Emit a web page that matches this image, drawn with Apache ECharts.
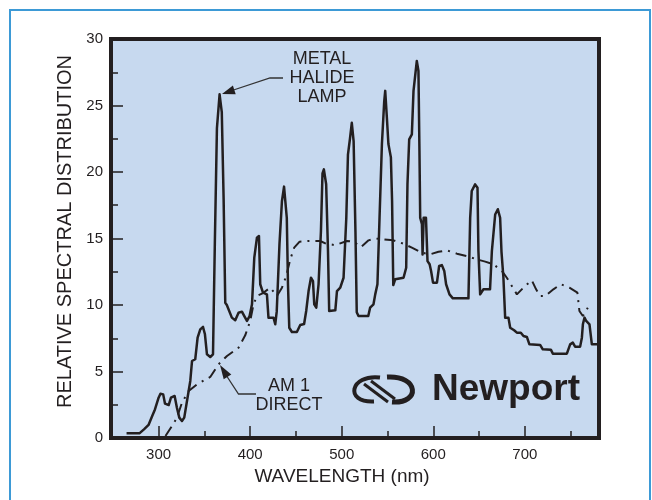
<!DOCTYPE html>
<html>
<head>
<meta charset="utf-8">
<script src="https://cdn.jsdelivr.net/npm/echarts@6/dist/echarts.min.js"></script>
<style>
html,body{margin:0;padding:0;background:#fff;}
#c{width:652px;height:500px;}
</style>
</head>
<body>
<div id="c"></div>
<script>
// Metal halide lamp (solid)
var halideWl = [265,279,284,289,293,296,300,302,305,307,311,313.5,317.5,320,322.6,325.5,328,331,334.6,336.5,340,342.6,345.5,348.5,350.6,352.8,356.4,359.4,361.5,363.7,366.6,369,371,372.8,374.5,380,383.7,387.3,391,393.6,396.5,399.4,402,404.5,407.4,409.6,411,414,418.3,420,425.5,427.4,429,432,434.7,437,440,441.3,442.7,445.6,451,454.7,458.9,461.2,463.8,466.4,468.6,470,472.2,474.7,477.3,479,480.5,483,485,486.3,493,494.8,498.4,502,505,506.8,509,511,513,515,516.4,518.3,529,531,534.7,536.6,539,541.3,543.9,546.4,547.5,549.3,551,553.7,555,556.3,556.8,558.4,567.5,570.4,571.8,573.7,576.6,578.4,582,583.8,584.9,585.7,587.6,588.3,589.5,592,593.7,596,597.6,599.7,604,606.4,609.4,612,614,617.7,621.4,638.4,640.3,642,645.7,648.3,649.3,651.2,654.8,662,664,667.6,670.5,673,674.5,676.6,678.5,682.1,684,688.3,691.3,695.6,698.5,702.2,705,716.7,719.6,728.4,730.6,745.9,749.5,752.4,754.9,760.4,762.3,763.4,765.2,767,770.6,773.2,778,781];
var halideVal = [0.35,0.35,0.65,0.98,1.65,2.15,3.03,3.33,3.28,2.58,2.48,3.03,3.16,2.28,1.53,1.28,1.53,2.78,4.29,5.79,5.92,7.54,8.17,8.35,7.8,6.29,6.09,6.29,15,23.3,25.84,24.5,18,10.17,10.0,9.05,8.85,9.42,9.5,9.17,8.8,9.17,10.05,13.56,15.06,15.19,11.56,10.93,10.8,9.05,9.05,8.55,9.5,14.56,17.8,18.9,16.56,11.56,8.29,7.97,7.97,8.5,8.57,9.55,11.05,12.05,11.8,10.05,9.8,11.56,15.56,19.9,20.2,19.08,14.06,9.55,9.6,11.05,11.3,12.05,16.56,21.3,22.5,23.7,22.3,15.5,9.45,9.17,9.17,9.8,10.05,10.8,11.56,16.56,22.1,25.3,26.1,24.1,22.1,21.1,17.8,11.5,11.5,11.93,12.05,12.8,19.07,22.46,22.83,26.1,28.35,27.6,21.6,16.56,16.07,13.8,16.56,16.56,13.3,13.06,12.56,11.68,11.68,12.93,13.0,12.56,11.56,10.8,10.5,10.5,16.56,18.57,19.07,18.82,14.06,10.8,11.18,11.18,14.06,16.8,17.2,16.56,14,12.05,9.05,9.05,8.29,8.1,7.92,7.92,7.67,7.6,7.04,7.0,6.67,6.64,6.34,6.34,7.04,7.17,6.87,6.87,7.54,8.55,9.05,8.8,8.55,7.04,7.04,7.04];

// AM 1 direct (dash-dot)
var am1Wl = [307.5,314.6,320,325.5,332.8,342,356.4,365.5,374.7,387.3,394.6,400,403.7,407.4,412.9,422,429.3,434.7,439.4,443.8,448.1,454,463.8,476.5,483,493,505.7,513,521,529.3,536.6,545.6,556.6,567.5,576.6,587.6,596.6,605.7,614.9,625.8,636.7,647.6,656.7,665.7,674.9,680.3,685.8,691.3,700.3,707.6,712.3,716.7,722.2,731.2,739.3,748.7,757.4,759.6,763.4,768.8];
var am1Val = [0.15,0.9,1.53,2.65,3.53,4.04,4.59,5.54,6.17,6.79,7.72,8.8,10.05,10.68,10.85,11.3,10.68,11.3,12.18,13.43,14.31,14.76,14.81,14.81,14.61,14.5,14.81,14.76,14.36,14.86,15.0,14.94,14.86,14.61,14.31,13.93,13.81,14.0,14.11,13.86,13.68,13.43,13.26,13.06,12.56,12.05,11.43,10.8,11.43,11.86,11.18,10.68,10.68,11.18,11.56,11.3,10.93,9.55,9.17,9.8];

var xMajorTicks = [300,400,500,600,700];
var xMinorTicks = [350,450,550,650,750];

function pairs(a,b){ return a.map(function(v,i){ return [v,b[i]]; }); }

var ink = '#231f20';
var FF = '"Liberation Sans", Arial, Helvetica, sans-serif';

var chart = echarts.init(document.getElementById('c'), null, {renderer:'canvas'});
chart.setOption({
  animation:false,
  backgroundColor:'#ffffff',
  grid:{left:111,right:53,top:39,bottom:62,show:true,backgroundColor:'#c7d9ef',borderColor:ink,borderWidth:4},
  xAxis:[{
    type:'value',min:248,max:781,
    axisLine:{show:false},
    splitLine:{show:false},
    axisTick:{show:true,inside:true,length:12,customValues:xMajorTicks,lineStyle:{color:ink,width:1.5}},
    axisLabel:{show:true,customValues:xMajorTicks,margin:9,color:ink,fontSize:15,fontFamily:FF},
    name:'WAVELENGTH (nm)',nameLocation:'middle',nameGap:25,
    nameTextStyle:{color:ink,fontSize:19,fontFamily:FF,verticalAlign:'top',padding:[0,26,0,0]}
  },{
    type:'value',min:248,max:781,position:'bottom',
    axisLine:{show:false},splitLine:{show:false},axisLabel:{show:false},
    axisTick:{show:true,inside:true,length:7,customValues:xMinorTicks,lineStyle:{color:ink,width:1.5}}
  }],
  yAxis:{
    type:'value',min:0,max:30,interval:5,
    axisLine:{show:false},splitLine:{show:false},
    axisTick:{show:true,inside:true,length:12,lineStyle:{color:ink,width:1.5}},
    minorTick:{show:true,splitNumber:2,length:7,lineStyle:{color:ink,width:1.5}},
    axisLabel:{margin:8,color:ink,fontSize:15,fontFamily:FF},
    name:'RELATIVE SPECTRAL DISTRIBUTION',nameLocation:'middle',nameGap:31,
    nameTextStyle:{color:ink,fontSize:20,fontFamily:FF,padding:[0,0,0,14]}
  },
  series:[{
    type:'line',name:'Metal halide lamp',data:pairs(halideWl,halideVal),
    showSymbol:false,symbol:'none',lineStyle:{color:ink,width:2.5,join:'round'},z:3
  },{
    type:'line',name:'AM 1 direct',data:pairs(am1Wl,am1Val),
    showSymbol:false,symbol:'none',lineStyle:{color:ink,width:2,type:[11,6,2,6],cap:'butt'},z:2
  }],
  graphic:[
    {type:'rect',shape:{x:10,y:10,width:640,height:500},style:{fill:'none',stroke:'#3d9ad6',lineWidth:2},silent:true,z:-1},
    {type:'text',x:322,y:50,style:{text:'METAL\nHALIDE\nLAMP',fill:ink,fontSize:18,fontFamily:FF,align:'center',verticalAlign:'top',lineHeight:19},z:10},
    {type:'polyline',shape:{points:[[283,78],[270,78],[232,90.5]]},style:{stroke:'#333',lineWidth:1.3,fill:'none'},z:10},
    {type:'polygon',shape:{points:[[222,94],[235.7,94.2],[232.9,85.6]]},style:{fill:ink},z:10},
    {type:'text',x:289,y:377,style:{text:'AM 1\nDIRECT',fill:ink,fontSize:18,fontFamily:FF,align:'center',verticalAlign:'top',lineHeight:19},z:10},
    {type:'polyline',shape:{points:[[256,394],[238.5,394],[227,376.5]]},style:{stroke:'#333',lineWidth:1.3,fill:'none'},z:10},
    {type:'polygon',shape:{points:[[220,365],[231.3,374.4],[223.7,379.2]]},style:{fill:ink},z:10},
    {type:'bezierCurve',shape:{x1:380,y1:377.5,cpx1:350,cpy1:374,cpx2:344,cpy2:403,x2:374,y2:401.5},style:{stroke:ink,lineWidth:4,fill:'none'},z:10},
    {type:'bezierCurve',shape:{x1:387,y1:377,cpx1:419,cpy1:375,cpx2:421,cpy2:404,x2:392,y2:402},style:{stroke:ink,lineWidth:5,fill:'none'},z:10},
    {type:'line',shape:{x1:364,y1:384,x2:388,y2:402},style:{stroke:ink,lineWidth:3},z:10},
    {type:'line',shape:{x1:371,y1:381,x2:395,y2:399},style:{stroke:ink,lineWidth:3},z:10},
    {type:'text',x:432,y:390,style:{text:'Newport',fill:ink,fontSize:37,fontWeight:'bold',fontFamily:FF,align:'left',verticalAlign:'middle'},z:10}
  ]
});
</script>
</body>
</html>
